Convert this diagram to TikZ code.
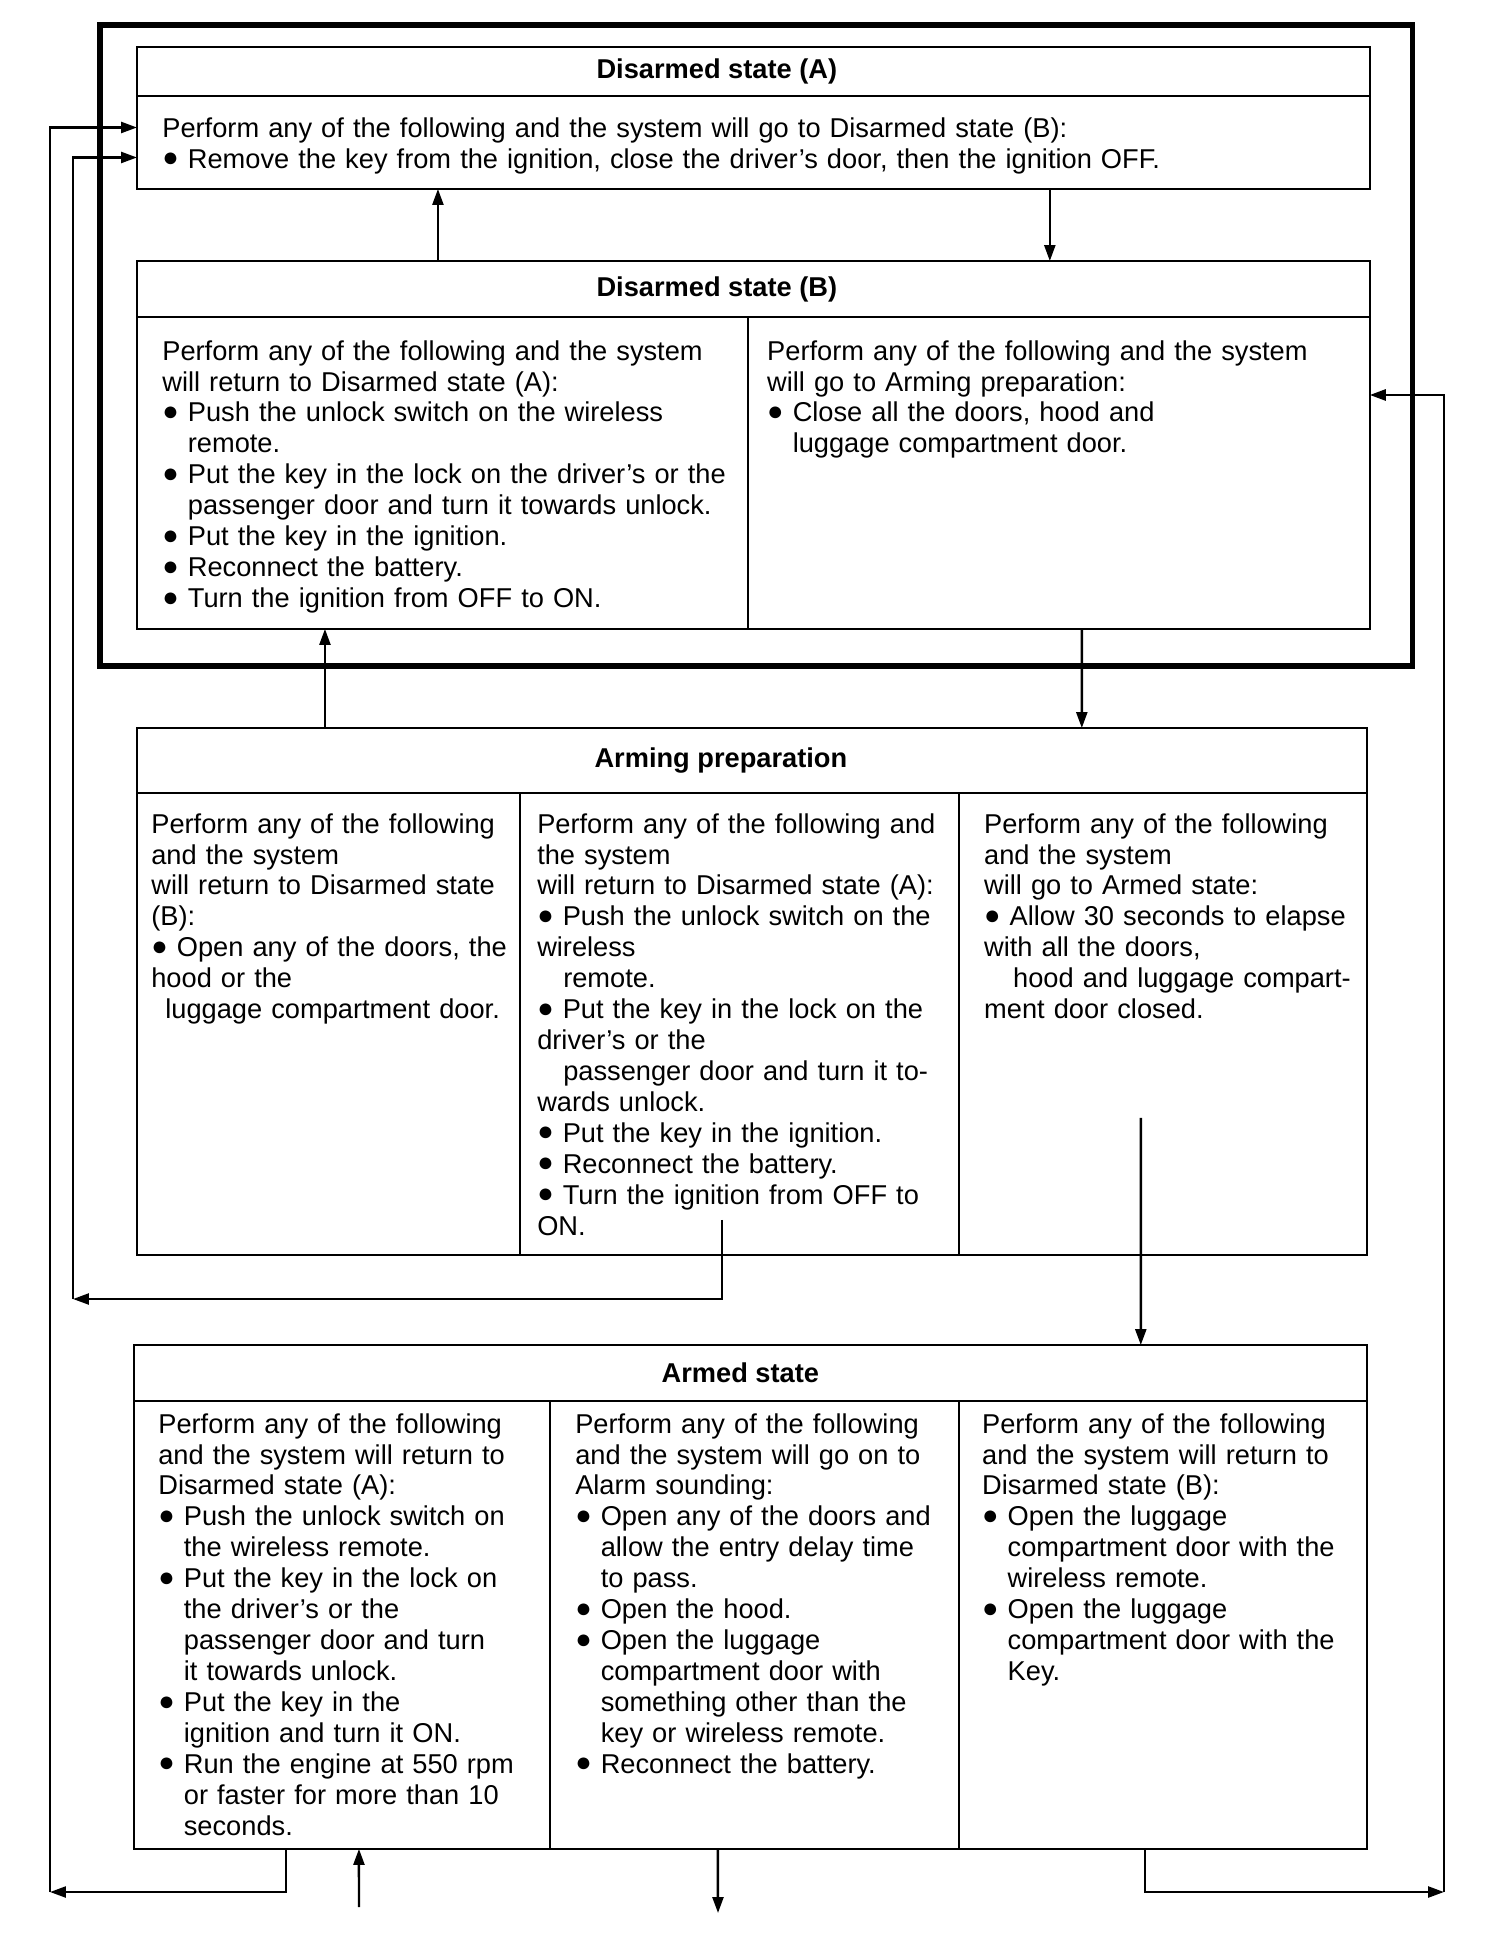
\documentclass[tikz,border=0pt]{standalone}
\usepackage{fontspec}
\setmainfont{Liberation Sans}
\usetikzlibrary{arrows.meta,positioning}
\newcommand\blt{\raisebox{0.05em}{●}}
\newcommand\hang{\phantom{\blt\ }}
\newcommand\fullline[2]{\makebox[#1][s]{#2}}
\newcommand\indline[3]{\hspace*{#1}\makebox[\dimexpr#2-#1\relax][s]{#3}}
\tikzset{
  rowbox/.style={draw,line width=1pt,outer sep=0pt,inner sep=0pt,anchor=north west},
  celltxt/.style={inner sep=0pt,align=left,anchor=north west,font=\fontsize{15.5}{17.6}\selectfont},
  headtxt/.style={inner sep=0pt,font=\fontsize{15.5}{17.6}\selectfont\bfseries},
  flow/.style={-{Triangle[length=0.32cm,width=0.22cm]},line width=1.4pt}
}
\begin{document}
\begin{tikzpicture}[x=0.02cm,y=-0.02cm]
\useasboundingbox (0,0) rectangle (1504,1952);
\node[rowbox,line width=3pt,minimum width=26.26cm,minimum height=12.82cm] (dis) at (100,25) {};

\node[rowbox,minimum width=24.66cm,minimum height=0.98cm] (atitle) at (137,47) {};
\node[headtxt] (atxt) at ([xshift=-0.73cm]atitle.center) {Disarmed state (A)};
\node[rowbox,minimum width=24.66cm,minimum height=1.86cm,below right=0pt and 0pt of atitle.south west] (abody) {};
\node[celltxt,text width=23.5cm,below right=0.42cm and 0.5cm of abody.north west] (abodytxt) {Perform any of the following and the system will go to Disarmed state (B):\\
\blt\ Remove the key from the ignition, close the driver's door, then the ignition OFF.};

\node[rowbox,minimum width=24.66cm,minimum height=1.12cm] (btitle) at (137,261) {};
\node[headtxt] (btxt) at ([xshift=-0.73cm]btitle.center) {Disarmed state (B)};
\node[rowbox,minimum width=12.22cm,minimum height=6.24cm,below right=0pt and 0pt of btitle.south west] (bleft) {};
\node[rowbox,minimum width=12.44cm,minimum height=6.24cm,right=0pt of bleft] (bright) {};
\node[celltxt,text width=11.5cm,below right=0.46cm and 0.5cm of bleft.north west] (blefttxt) {Perform any of the following and the system\\
will return to Disarmed state (A):\\
\blt\ Push the unlock switch on the wireless\\
\hang remote.\\
\blt\ Put the key in the lock on the driver's or the\\
\hang passenger door and turn it towards unlock.\\
\blt\ Put the key in the ignition.\\
\blt\ Reconnect the battery.\\
\blt\ Turn the ignition from OFF to ON.};
\node[celltxt,text width=11.8cm,below right=0.46cm and 0.38cm of bright.north west] (brighttxt) {Perform any of the following and the system\\
will go to Arming preparation:\\
\blt\ Close all the doors, hood and\\
\hang luggage compartment door.};

\node[rowbox,minimum width=24.6cm,minimum height=1.3cm] (ptitle) at (137,728) {};
\node[headtxt] (ptxt) at ([xshift=-0.62cm]ptitle.center) {Arming preparation};
\node[rowbox,minimum width=7.66cm,minimum height=9.24cm,below right=0pt and 0pt of ptitle.south west] (pleft) {};
\node[rowbox,minimum width=8.78cm,minimum height=9.24cm,right=0pt of pleft] (pmid) {};
\node[rowbox,minimum width=8.16cm,minimum height=9.24cm,right=0pt of pmid] (pright) {};
\node[celltxt,text width=7.3cm,below right=0.4cm and 0.28cm of pleft.north west] (plefttxt) {Perform any of the following\\
and the system\\
will return to Disarmed state\\
(B):\\
\blt\ Open any of the doors, the\\
hood or the\\
\hspace*{0.28cm}luggage compartment door.};
\node[celltxt,text width=8.3cm,below right=0.4cm and 0.34cm of pmid.north west] (pmidtxt) {\fullline{7.96cm}{Perform any of the following and}\\
the system\\
will return to Disarmed state (A):\\
\fullline{7.96cm}{\blt\ Push the unlock switch on the}\\
wireless\\
\hspace*{0.52cm}remote.\\
\fullline{7.96cm}{\blt\ Put the key in the lock on the}\\
driver's or the\\
\indline{0.52cm}{7.96cm}{passenger door and turn it to-}\\
wards unlock.\\
\blt\ Put the key in the ignition.\\
\blt\ Reconnect the battery.\\
\fullline{7.96cm}{\blt\ Turn the ignition from OFF to}\\
ON.};
\node[celltxt,text width=7.6cm,below right=0.4cm and 0.5cm of pright.north west] (prighttxt) {\fullline{7.52cm}{Perform any of the following}\\
and the system\\
will go to Armed state:\\
\fullline{7.52cm}{\blt\ Allow 30 seconds to elapse}\\
with all the doors,\\
\indline{0.58cm}{7.52cm}{hood and luggage compart-}\\
ment door closed.};

\node[rowbox,minimum width=24.66cm,minimum height=1.12cm] (mtitle) at (134,1345) {};
\node[headtxt] (mtxt) at ([xshift=-0.2cm]mtitle.center) {Armed state};
\node[rowbox,minimum width=8.32cm,minimum height=8.96cm,below right=0pt and 0pt of mtitle.south west] (mleft) {};
\node[rowbox,minimum width=8.18cm,minimum height=8.96cm,right=0pt of mleft] (mmid) {};
\node[rowbox,minimum width=8.16cm,minimum height=8.96cm,right=0pt of mmid] (mright) {};
\node[celltxt,text width=7.7cm,below right=0.24cm and 0.48cm of mleft.north west] (mlefttxt) {Perform any of the following\\
and the system will return to\\
Disarmed state (A):\\
\blt\ Push the unlock switch on\\
\hang the wireless remote.\\
\blt\ Put the key in the lock on\\
\hang the driver's or the\\
\hang passenger door and turn\\
\hang it towards unlock.\\
\blt\ Put the key in the\\
\hang ignition and turn it ON.\\
\blt\ Run the engine at 550 rpm\\
\hang or faster for more than 10\\
\hang seconds.};
\node[celltxt,text width=7.6cm,below right=0.24cm and 0.5cm of mmid.north west] (mmidtxt) {Perform any of the following\\
and the system will go on to\\
Alarm sounding:\\
\blt\ Open any of the doors and\\
\hang allow the entry delay time\\
\hang to pass.\\
\blt\ Open the hood.\\
\blt\ Open the luggage\\
\hang compartment door with\\
\hang something other than the\\
\hang key or wireless remote.\\
\blt\ Reconnect the battery.};
\node[celltxt,text width=7.6cm,below right=0.24cm and 0.46cm of mright.north west] (mrighttxt) {Perform any of the following\\
and the system will return to\\
Disarmed state (B):\\
\blt\ Open the luggage\\
\hang compartment door with the\\
\hang wireless remote.\\
\blt\ Open the luggage\\
\hang compartment door with the\\
\hang Key.};

\coordinate (c1) at (50,1892);
\coordinate (c2) at (73,1299);
\coordinate (c3) at (1444,1892);
\coordinate (in1) at (359,1907);
\coordinate (out1) at (718,1913);

\draw[flow] ([xshift=6.02cm]btitle.north west) -- ([xshift=6.02cm]abody.south west);
\draw[flow] ([xshift=18.26cm]abody.south west) -- ([xshift=18.26cm]btitle.north west);
\draw[flow] ([xshift=3.76cm]ptitle.north west) -- ([xshift=3.76cm]bleft.south west);
\draw[flow] ([xshift=6.68cm]bright.south west) -- ([xshift=18.9cm]ptitle.north west);
\draw[flow] ([xshift=4.04cm,yshift=0.7cm]pmid.south west) |- (c2);
\draw[flow] (c2) |- ([yshift=-0.3cm]abody.west);
\draw[flow] ([xshift=3.04cm]mleft.south west) |- (c1);
\draw[flow] (c1) |- ([yshift=0.3cm]abody.west);
\draw[flow] ([xshift=3.64cm,yshift=2.74cm]pright.south west) -- ([xshift=20.14cm]mtitle.north west);
\draw[flow] ([xshift=3.72cm]mright.south west) |- (c3);
\draw[flow] (c3) |- ([yshift=-1.56cm]bright.north east);
\draw[flow] (in1) -- ([xshift=4.5cm]mleft.south west);
\draw[flow] ([xshift=3.36cm]mmid.south west) -- (out1);
\end{tikzpicture}
\end{document}
